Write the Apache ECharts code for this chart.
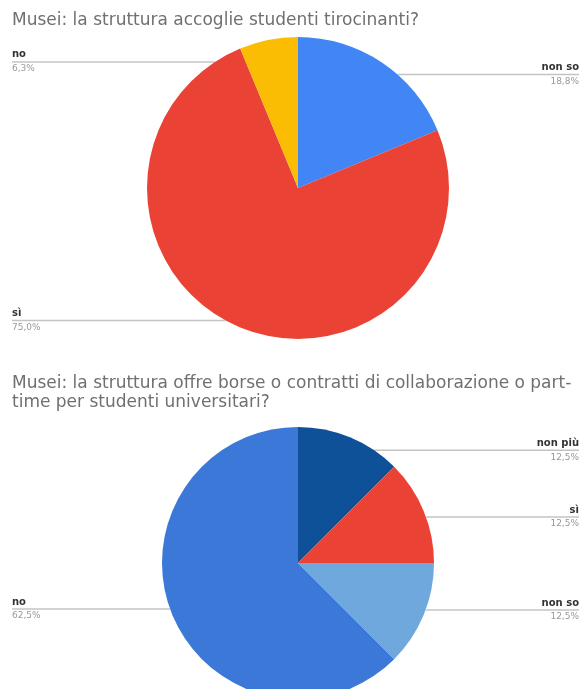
<!DOCTYPE html>
<html><head><meta charset="utf-8">
<script src="https://cdn.jsdelivr.net/npm/echarts@6/dist/echarts.min.js"></script>
<style>html,body{margin:0;padding:0;background:#fff;}#c{width:583px;height:689px;}</style>
</head><body><div id="c"></div>
<script>
// Chart 1
const title1 = "Musei: la struttura accoglie studenti tirocinanti?";
const names1 = ["non so", "sì", "no"];
const values1 = [3, 12, 1];
const colors1 = ["#4285F4", "#EA4335", "#FBBC04"];
// Chart 2
const title2 = "Musei: la struttura offre borse o contratti di collaborazione o part-\ntime per studenti universitari?";
const names2 = ["non più", "sì", "non so", "no"];
const values2 = [1, 1, 1, 5];
const colors2 = ["#0E5199", "#EA4335", "#6FA8DC", "#3C78D8"];

const W = 583;
const pies = [
  {cx: 298, cy: 188, r: 151, dy: [12, -7, 22], values: values1},
  {cx: 298, cy: 563, r: 136, dy: [13, 6, -5, -6], values: values2}
];

function pctText(vals, i) {
  const tot = vals.reduce((a, b) => a + b, 0);
  return (vals[i] / tot * 100).toFixed(1).replace('.', ',') + '%';
}

function layout(p) {
  const cfg = pies[p.seriesIndex];
  const vals = cfg.values;
  const tot = vals.reduce((a, b) => a + b, 0);
  let before = 0;
  for (let k = 0; k < p.dataIndex; k++) before += vals[k];
  const mid = (before + vals[p.dataIndex] / 2) / tot * Math.PI * 2;
  const mx = cfg.cx + cfg.r * Math.sin(mid);
  const my = cfg.cy - cfg.r * Math.cos(mid);
  const y = my + cfg.dy[p.dataIndex];
  const right = mx > cfg.cx;
  const half = Math.sqrt(Math.max(0, cfg.r * cfg.r - (y - cfg.cy) * (y - cfg.cy)));
  const inner = right ? cfg.cx + half : cfg.cx - half;
  const edge = right ? W - 4 : 12;
  return {
    x: edge, y: y, align: right ? 'right' : 'left', verticalAlign: 'middle',
    labelLinePoints: [[inner, y], [(inner + edge) / 2, y], [edge, y]]
  };
}

const rich = {
  n: {fontSize: 10, fontWeight: 'bold', color: '#333', lineHeight: 14, fontFamily: 'DejaVu Sans'},
  p: {fontSize: 9, color: '#999', lineHeight: 14, fontFamily: 'DejaVu Sans'}
};

function makeSeries(names, vals, colors, idx) {
  const cfg = pies[idx];
  return {
    type: 'pie',
    center: [cfg.cx, cfg.cy],
    radius: [0, cfg.r],
    startAngle: 90,
    clockwise: true,
    animation: false,
    silent: true,
    data: names.map((n, i) => ({name: n, value: vals[i], itemStyle: {color: colors[i]}})),
    label: {
      show: true, position: 'outer',
      formatter: (p) => '{n|' + p.name + '}\n{p|' + pctText(vals, p.dataIndex) + '}',
      rich: rich
    },
    labelLine: {show: true, length: 5, length2: 5, smooth: false, lineStyle: {color: '#c4c4c4', width: 1.5}},
    labelLayout: layout
  };
}

const chart = echarts.init(document.getElementById('c'), null, {renderer: 'canvas'});
chart.setOption({
  backgroundColor: '#fff',
  title: [
    {text: title1, left: 12, top: 11, padding: 0, textStyle: {fontSize: 17, fontWeight: 'normal', color: '#707070', lineHeight: 19, fontFamily: 'DejaVu Sans'}},
    {text: title2, left: 12, top: 374, padding: 0, textStyle: {fontSize: 17, fontWeight: 'normal', color: '#707070', lineHeight: 19, fontFamily: 'DejaVu Sans'}}
  ],
  series: [
    makeSeries(names1, values1, colors1, 0),
    makeSeries(names2, values2, colors2, 1)
  ]
});
</script></body></html>
